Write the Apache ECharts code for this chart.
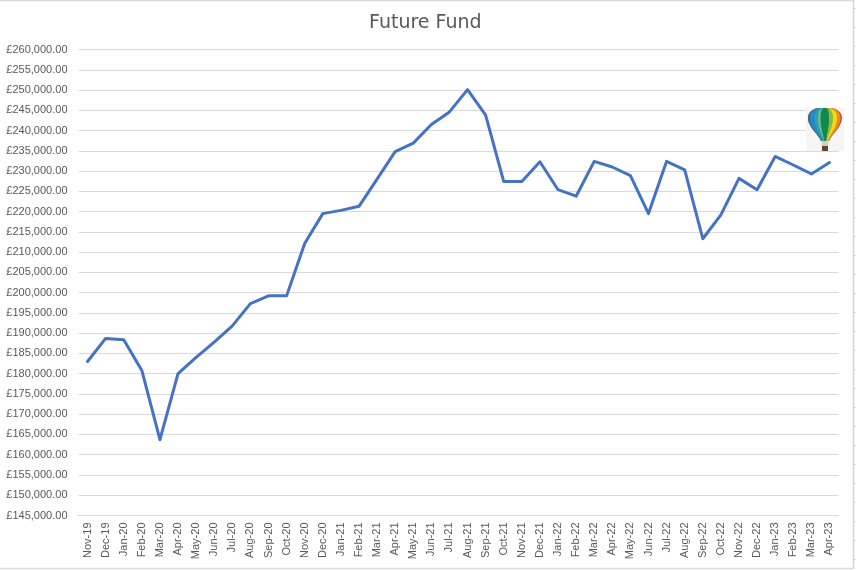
<!DOCTYPE html>
<html>
<head>
<meta charset="utf-8">
<style>html,body{margin:0;padding:0;background:#fff}#c{width:856px;height:570px}</style>
<script src="https://cdn.jsdelivr.net/npm/echarts@6/dist/echarts.min.js"></script>
</head>
<body>
<div id="c"></div>
<script>
const chartTitle = 'Future Fund';
const categories = ['Nov-19','Dec-19','Jan-20','Feb-20','Mar-20','Apr-20','May-20','Jun-20','Jul-20','Aug-20','Sep-20','Oct-20','Nov-20','Dec-20','Jan-21','Feb-21','Mar-21','Apr-21','May-21','Jun-21','Jul-21','Aug-21','Sep-21','Oct-21','Nov-21','Dec-21','Jan-22','Feb-22','Mar-22','Apr-22','May-22','Jun-22','Jul-22','Aug-22','Sep-22','Oct-22','Nov-22','Dec-22','Jan-23','Feb-23','Mar-23','Apr-23'];
const fundValues = [183000,188700,188400,180800,163700,180000,184000,187800,191800,197300,199200,199200,212100,219500,220300,221300,228000,234800,236900,241500,244600,250100,243800,227400,227400,232300,225400,223800,232400,231000,228900,219500,232400,230300,213300,219200,228200,225400,233600,231500,229300,232100];

const CX = 825, TOP = 108, BOT = 141;
function bez(a, b, c, d, out) {
  for (let i = 0; i <= 12; i++) {
    const t = i / 12, u = 1 - t;
    out.push([
      u*u*u*a[0] + 3*u*u*t*b[0] + 3*u*t*t*c[0] + t*t*t*d[0],
      u*u*u*a[1] + 3*u*u*t*b[1] + 3*u*t*t*c[1] + t*t*t*d[1]
    ]);
  }
}
function side(v, out) {
  const x = f => CX + v * f;
  bez([x(0.25), TOP], [x(0.75), TOP], [x(1), TOP + 5], [x(1), TOP + 10], out);
  bez([x(1), TOP + 10], [x(1), TOP + 19], [x(0.35), BOT - 6], [x(0.24), BOT], out);
}
function gore(l, r) {
  const left = [], right = [];
  side(l, left);
  side(r, right);
  return left.concat(right.reverse());
}
const goreStops = [
  [-17, 17, '#b9532f'], [-17, 15.5, '#f08c1e'], [-17, 12, '#f6d90f'], [-17, 8, '#8cb83c'],
  [-17, 3.5, '#4c54a4'], [-15.5, 3.5, '#1e8cc6'], [-10.5, 3.5, '#2aa3a8'],
  [-7, 3.5, '#74b79c'], [-4.5, 4, '#0e8a4c']
];
const balloon = [
  { type: 'rect', shape: { x: 806, y: 108, width: 38, height: 43 }, style: { fill: '#f5f5f5' } },
  ...goreStops.map(g => ({ type: 'polygon', shape: { points: gore(g[0], g[1]) }, style: { fill: g[2] } })),
  { type: 'rect', shape: { x: 821.5, y: 141, width: 7, height: 5 }, style: { fill: '#cfcfc6' } },
  { type: 'rect', shape: { x: 822, y: 146, width: 6, height: 5 }, style: { fill: '#6b4226' } }
];
const frame = [
  { type: 'line', shape: { x1: 0, y1: 0.5, x2: 853, y2: 0.5 }, style: { stroke: '#d9d9d9', lineWidth: 1.5 } },
  { type: 'line', shape: { x1: 0, y1: 568.5, x2: 853, y2: 568.5 }, style: { stroke: '#d9d9d9', lineWidth: 1.5 } },
  { type: 'line', shape: { x1: 853.5, y1: 0, x2: 853.5, y2: 569 }, style: { stroke: '#d4d4d4', lineWidth: 1.5 } }
];
for (let i = 0; i < 30; i++) {
  const y = 8.5 + 19 * i;
  frame.push({ type: 'line', shape: { x1: 854, y1: y, x2: 856, y2: y }, style: { stroke: '#d9d9d9', lineWidth: 1 } });
}

const chart = echarts.init(document.getElementById('c'), null, { renderer: 'canvas' });
chart.setOption({
  animation: false,
  backgroundColor: '#fff',
  title: {
    text: chartTitle, left: 369, top: 14, padding: 0,
    textStyle: { fontFamily: 'DejaVu Sans', fontSize: 19, fontWeight: 'normal', color: '#595959' }
  },
  grid: { left: 78.5, right: 17.5, top: 49.5, height: 466, containLabel: false },
  xAxis: {
    type: 'category', data: categories, boundaryGap: true,
    axisLine: { show: true, lineStyle: { color: '#d9d9d9', width: 1 } },
    axisTick: { show: false },
    axisLabel: { interval: 0, rotate: 90, margin: 7, fontFamily: 'Liberation Sans', fontSize: 11, color: '#595959' }
  },
  yAxis: {
    type: 'value', min: 145000, max: 260000, interval: 5000,
    axisLine: { show: false }, axisTick: { show: false },
    splitLine: { lineStyle: { color: '#d9d9d9', width: 1 } },
    axisLabel: {
      margin: 11, fontFamily: 'Liberation Sans', fontSize: 11, color: '#595959', padding: [0, 0, 3, 0],
      formatter: v => '£' + v.toLocaleString('en-GB', { minimumFractionDigits: 2, maximumFractionDigits: 2 })
    }
  },
  series: [{
    type: 'line', name: chartTitle, data: fundValues, symbol: 'none', smooth: false,
    lineStyle: { color: '#4472C4', width: 3, cap: 'round', join: 'round' }
  }],
  graphic: frame.concat(balloon).map(e => Object.assign({ silent: true, z: 10 }, e))
});
</script>
</body>
</html>
